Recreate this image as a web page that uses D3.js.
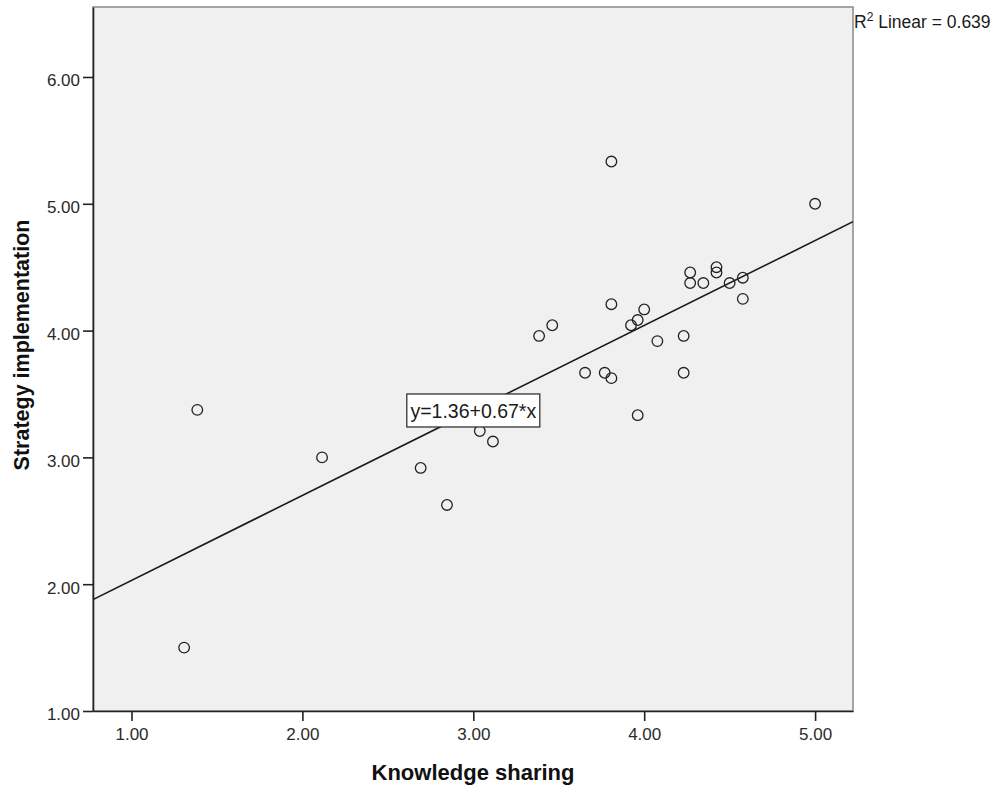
<!DOCTYPE html>
<html>
<head>
<meta charset="utf-8">
<script src="https://cdn.jsdelivr.net/npm/d3@7/dist/d3.min.js"></script>
<style>
  html, body { margin: 0; padding: 0; background: #fff; }
  svg { display: block; font-family: "Liberation Sans", Arial, sans-serif; }
</style>
</head>
<body>
<svg id="chart" width="993" height="786"></svg>
<script>
// ---- data ----
const knowledgeSharing = [1.308, 1.385, 2.115, 2.692, 2.846, 3.038, 3.115, 3.385, 3.462, 3.654,
                          3.769, 3.808, 3.808, 3.808, 3.962, 3.923, 3.962, 4.000, 4.077, 4.231,
                          4.231, 4.269, 4.269, 4.346, 4.423, 4.423, 4.500, 4.577, 4.577, 5.000];
const strategyImplementation = [1.500, 3.375, 3.000, 2.917, 2.625, 3.208, 3.125, 3.958, 4.042, 3.667,
                                3.667, 3.625, 5.333, 4.208, 3.333, 4.042, 4.083, 4.167, 3.917, 3.958,
                                3.667, 4.458, 4.375, 4.375, 4.500, 4.458, 4.375, 4.417, 4.250, 5.000];
const fitCoefficients = [1.36, 0.67];   // intercept, slope
const rSquared = [0.639];
const xTicks = [1, 2, 3, 4, 5];
const yTicks = [1, 2, 3, 4, 5, 6];
const xTitle = "Knowledge sharing";
const yTitle = "Strategy implementation";

// ---- layout ----
const L = 93, R = 853, T = 7, B = 711;
const svg = d3.select("#chart");
const x = d3.scaleLinear().domain([0.7747, 5.2218]).range([L, R]);
const y = d3.scaleLinear().domain([1, 6.552]).range([B, T]);
const fmt = d3.format(".2f");

// plot background
svg.append("rect").attr("x", L).attr("y", T).attr("width", R - L).attr("height", B - T)
  .attr("fill", "#f0f0f0").attr("stroke", "#8a8a8a").attr("stroke-width", 1.5);

svg.append("clipPath").attr("id", "plotclip")
  .append("rect").attr("x", L).attr("y", T).attr("width", R - L).attr("height", B - T);

// regression line
const [b0, b1] = fitCoefficients;
const xd = x.domain();
svg.append("line")
  .attr("clip-path", "url(#plotclip)")
  .attr("x1", x(xd[0])).attr("y1", y(b0 + b1 * xd[0]))
  .attr("x2", x(xd[1])).attr("y2", y(b0 + b1 * xd[1]))
  .attr("stroke", "#1a1a1a").attr("stroke-width", 1.6);

// points
svg.append("g").selectAll("circle")
  .data(knowledgeSharing.map((v, i) => [v, strategyImplementation[i]]))
  .join("circle")
  .attr("cx", d => x(d[0])).attr("cy", d => y(d[1])).attr("r", 5.3)
  .attr("fill", "none").attr("stroke", "#222").attr("stroke-width", 1.3);

// axes
const xAxis = svg.append("g").attr("transform", `translate(0,${B})`)
  .call(d3.axisBottom(x).tickValues(xTicks).tickFormat(fmt).tickSize(10).tickSizeOuter(0).tickPadding(7));
const yAxis = svg.append("g").attr("transform", `translate(${L},0)`)
  .call(d3.axisLeft(y).tickValues(yTicks).tickFormat(fmt).tickSize(10).tickSizeOuter(0).tickPadding(3));
[xAxis, yAxis].forEach(g => {
  g.selectAll(".domain").attr("stroke", "#222").attr("stroke-width", 1.6);
  g.selectAll(".tick line").attr("stroke", "#222").attr("stroke-width", 1.6);
  g.selectAll(".tick text").attr("fill", "#2a2a2a").style("font-size", "17px")
    .style("font-family", '"Liberation Sans", Arial, sans-serif');
});
yAxis.selectAll(".tick text").attr("dy", "0.52em");

// axis titles
svg.append("text").attr("x", (L + R) / 2).attr("y", 780).attr("text-anchor", "middle")
  .style("font-size", "22px").style("font-weight", "bold").attr("fill", "#111").text(xTitle);
svg.append("text").attr("transform", `translate(29,345) rotate(-90)`).attr("text-anchor", "middle")
  .style("font-size", "21.5px").style("font-weight", "bold").attr("fill", "#111").text(yTitle);

// equation label, centered on the fit line at x = 3
const lx = 3, ly = b0 + b1 * lx;
const eqG = svg.append("g").attr("transform", `translate(${x(lx)},${y(ly)})`);
eqG.append("rect").attr("x", -66.5).attr("y", -16.5).attr("width", 133).attr("height", 33)
  .attr("fill", "#fff").attr("stroke", "#333").attr("stroke-width", 1.3);
eqG.append("text").attr("text-anchor", "middle").attr("dy", "0.36em")
  .style("font-size", "19.5px").attr("fill", "#1a1a1a")
  .text(`y=${b0.toFixed(2)}+${b1.toFixed(2)}*x`);

// R squared label
const rt = svg.append("text").attr("x", R + 1).attr("y", 28).style("font-size", "17.5px").attr("fill", "#1a1a1a");
rt.append("tspan").text("R");
rt.append("tspan").attr("dy", -7).style("font-size", "12px").text("2");
rt.append("tspan").attr("dy", 7).text(` Linear = ${rSquared[0].toFixed(3)}`);
</script>
</body>
</html>
